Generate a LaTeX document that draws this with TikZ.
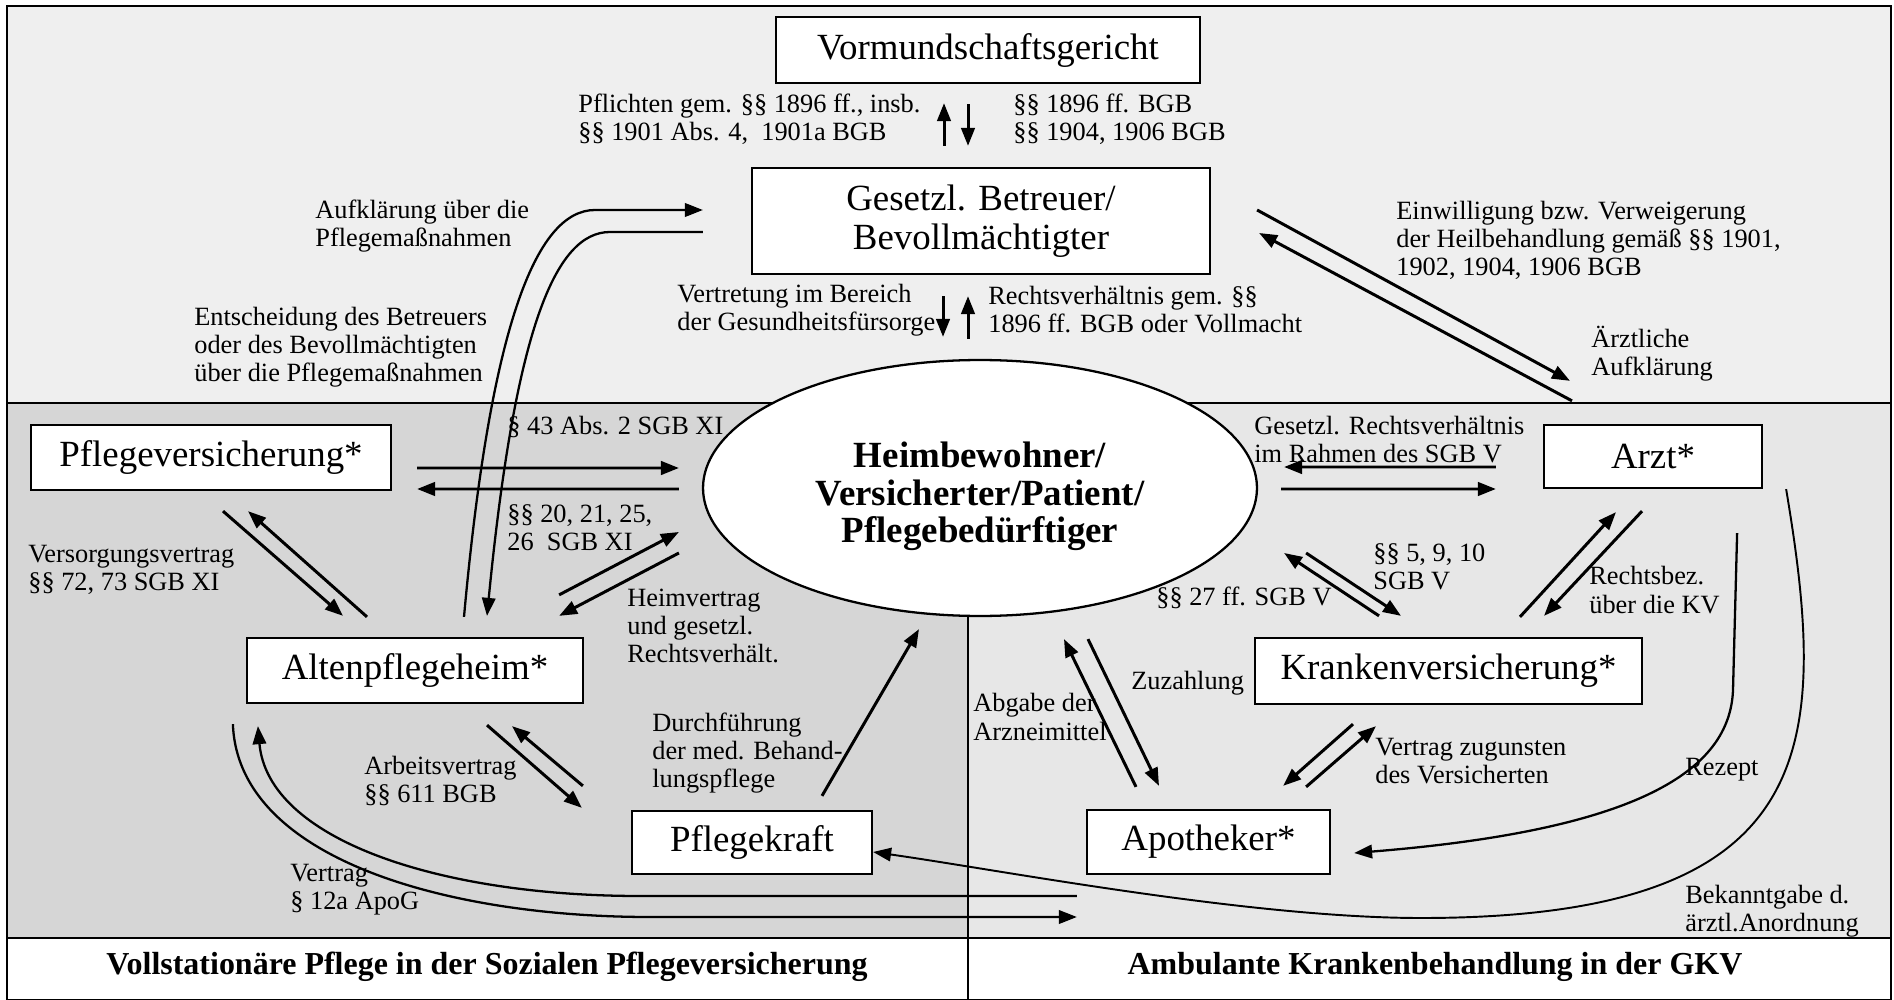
\documentclass[tikz,border=0pt]{standalone}
\usepackage{fontspec}
\setmainfont{Liberation Serif}
\usepackage{tikz}
\definecolor{topgray}{RGB}{239, 239, 239}
\definecolor{leftgray}{RGB}{214, 214, 214}
\definecolor{rightgray}{RGB}{231, 231, 231}
\usetikzlibrary{shapes.geometric, arrows.meta, positioning}

\begin{document}
\begin{tikzpicture}[x=0.02cm, y=-0.02cm,
    actor/.style={draw, line width=1.3pt, fill=white, inner sep=0pt,
                  font=\fontsize{21}{22}\selectfont, align=center},
    person/.style={draw, ellipse, line width=1.3pt, fill=white, inner sep=0pt,
                   minimum width=11.08cm, minimum height=5.12cm, text height=67pt,
                   font=\fontsize{21}{21.5}\selectfont\bfseries, align=center},
    note/.style={font=\fontsize{15}{16}\selectfont, align=left, anchor=west, inner sep=0pt},
    title/.style={font=\fontsize{18.2}{19}\selectfont\bfseries},
    conn/.style={-{Triangle[length=3.6mm,width=2.7mm]}, line width=1.7pt},
    link/.style={line width=1.2pt},
    curve/.style={line width=1.3pt},
    thin curve/.style={line width=1.1pt}
]
    \useasboundingbox (0,0) rectangle (1894,1000);

    % Areas
    \fill[topgray] (7,6) rectangle (1891,403);
    \fill[leftgray] (7,403) rectangle (968,938);
    \fill[rightgray] (968,403) rectangle (1891,938);
    \fill[white] (7,938) rectangle (1891,1000);
    \draw[link] (7,403) -- (1891,403);
    \draw[link] (7,938) -- (1891,938);
    \draw[link] (968,403) -- (968,1000);
    \draw[link] (7,6) rectangle (1891,1000);

    % Footer
    \node[title] (ftleft) at (487,967) {Vollstationäre Pflege in der Sozialen Pflegeversicherung};
    \node[title] (ftright) at (1435,967) {Ambulante Krankenbehandlung in der GKV};

    % Parties
    \node[actor, minimum width=8.48cm, minimum height=1.32cm] (vorm) at (988,50) {Vormundschaftsgericht};
    \node[actor, minimum width=9.16cm, minimum height=2.12cm] (betr) at (981,221) {Gesetzl. Betreuer/\\Bevollmächtigter};
    \node[person] (pat) at (980,488) {Heimbewohner/\\Versicherter/Patient/\\Pflegebedürftiger};
    \node[actor, minimum width=7.2cm, minimum height=1.3cm] (pflv) at (211,457.5) {Pflegeversicherung*};
    \node[actor, minimum width=6.72cm, minimum height=1.3cm] (heim) at (415,670.5) {Altenpflegeheim*};
    \node[actor, minimum width=4.8cm, minimum height=1.26cm] (kraft) at (752,842.5) {Pflegekraft};
    \node[actor, minimum width=4.36cm, minimum height=1.26cm] (arzt) at (1653,456.5) {Arzt*};
    \node[actor, minimum width=7.74cm, minimum height=1.32cm] (kv) at (1448.5,671) {Krankenversicherung*};
    \node[actor, minimum width=4.86cm, minimum height=1.28cm] (apo) at (1208.5,842) {Apotheker*};

    % Labels
    \node[note] (pflicht) at (578,119) {Pflichten gem. §§ 1896 ff., insb.\\§§ 1901 Abs. 4,\ \ 1901a BGB};
    \node[note] (bgbvorm) at (1013,119) {§§ 1896 ff. BGB\\§§ 1904, 1906 BGB};
    \node[note] (aufkl) at (315,226) {Aufklärung über die\\Pflegemaßnahmen};
    \node[note] (entsch) at (194,347) {Entscheidung des Betreuers\\oder des Bevollmächtigten\\über die Pflegemaßnahmen};
    \node[note] (vertr) at (677,310) {Vertretung im Bereich\\der Gesundheitsfürsorge};
    \node[note] (rechtsv) at (988,310) {Rechtsverhältnis gem. §§\\1896 ff. BGB oder Vollmacht};
    \node[note] (einw) at (1396,240) {Einwilligung bzw. Verweigerung\\der Heilbehandlung gemäß §§ 1901,\\1902, 1904, 1906 BGB};
    \node[note] (aerztl) at (1591,354) {Ärztliche\\Aufklärung};
    \node[note] (par43) at (507,427) {§ 43 Abs. 2 SGB XI};
    \node[note] (par20) at (507,528) {§§ 20, 21, 25,\\26\ \ SGB XI};
    \node[note] (versorg) at (28,570) {Versorgungsvertrag\\§§ 72, 73 SGB XI};
    \node[note] (heimv) at (627,626) {Heimvertrag\\und gesetzl.\\Rechtsverhält.};
    \node[note] (gesrv) at (1254,440) {Gesetzl. Rechtsverhältnis\\im Rahmen des SGB V};
    \node[note] (par5) at (1373,567) {§§ 5, 9, 10\\SGB V};
    \node[note] (par27) at (1156,598) {§§ 27 ff. SGB V};
    \node[note] (rbez) at (1589,590) {Rechtsbez.\\über die KV};
    \node[note] (zuz) at (1131,683) {Zuzahlung};
    \node[note] (abgabe) at (973,717) {Abgabe der\\Arzneimittel};
    \node[note] (vzug) at (1375,761) {Vertrag zugunsten\\des Versicherten};
    \node[note] (rezept) at (1685,770) {Rezept};
    \node[note] (bekannt) at (1685,911) {Bekanntgabe d.\\ärztl.Anordnung};
    \node[note] (arbeit) at (364,781) {Arbeitsvertrag\\§§ 611 BGB};
    \node[note] (durchf) at (652,753) {Durchführung\\der med. Behand-\\lungspflege};
    \node[note] (apog) at (290,890) {Vertrag\\§ 12a ApoG};

    % Vormundschaftsgericht - Betreuer
    \draw[conn] ([shift={(-37,-21)}]betr.north) -- ([shift={(-44,19)}]vorm.south);
    \draw[conn] ([shift={(-20,20)}]vorm.south) -- ([shift={(-13,-21)}]betr.north);

    % Betreuer - Heimbewohner
    \draw[conn] ([shift={(-38,21)}]betr.south) -- ([shift={(-37,-22)}]pat.north);
    \draw[conn] ([shift={(-12,-20)}]pat.north) -- ([shift={(-13,21)}]betr.south);

    % Betreuer - Altenpflegeheim
    \draw[conn, curve] ([shift={(49,-20)}]heim.north) .. controls (490,330) and (535,210) .. (595,210)
        -- ([shift={(-48,-11)}]betr.west);
    \draw[conn, curve] ([shift={(-48,11)}]betr.west) -- (610,232) .. controls (555,232) and (515,330)
        .. ([shift={(72,-21)}]heim.north);

    % Betreuer - Arzt
    \draw[conn] ([shift={(46,-11)}]betr.east) -- ([shift={(-83,-43)}]arzt.north);
    \draw[conn] ([shift={(-81,-23)}]arzt.north) -- ([shift={(48,12)}]betr.east);

    % Pflegeversicherung
    \draw[conn] ([shift={(25,10.5)}]pflv.east) -- ([shift={(-23,-20)}]pat.west);
    \draw[conn] ([shift={(-23,1)}]pat.west) -- ([shift={(25,31.5)}]pflv.east);
    \draw[conn] ([shift={(12,20)}]pflv.south) -- ([shift={(-72,-21)}]heim.north);
    \draw[conn] ([shift={(-48,-20)}]heim.north) -- ([shift={(37,20)}]pflv.south);

    % Altenpflegeheim
    \draw[conn] ([shift={(-25,-42)}]heim.north east) -- ([shift={(-23,44)}]pat.west);
    \draw[conn] ([shift={(-23,65)}]pat.west) -- ([shift={(-25,-21)}]heim.north east);
    \draw[conn] ([shift={(72,21)}]heim.south) -- ([shift={(-49,-2)}]kraft.north west);
    \draw[conn] ([shift={(-48,-24)}]kraft.north west) -- ([shift={(97,22)}]heim.south);
    \draw[conn] ([shift={(70,-14)}]kraft.north) -- ([shift={(-61,12)}]pat.south);

    % Arzt and Krankenversicherung
    \draw[conn] ([shift={(-47,10.5)}]arzt.west) -- ([shift={(26,-21)}]pat.east);
    \draw[conn] ([shift={(23,1)}]pat.east) -- ([shift={(-47,32.5)}]arzt.west);
    \draw[conn] ([shift={(-69.5,-21)}]kv.north) -- ([shift={(26,65)}]pat.east);
    \draw[conn] ([shift={(48,65)}]pat.east) -- ([shift={(-47.5,-21)}]kv.north);
    \draw[conn] ([shift={(71.5,-20)}]kv.north) -- ([shift={(-37,23)}]arzt.south);
    \draw[conn] ([shift={(-11,22)}]arzt.south) -- ([shift={(95.5,-21)}]kv.north);

    % Apotheker
    \draw[conn] ([shift={(-72.5,-22)}]apo.north) -- ([shift={(84,22)}]pat.south);
    \draw[conn] ([shift={(108,22)}]pat.south) -- ([shift={(-49.5,-23)}]apo.north);
    \draw[conn] ([shift={(-95.5,19)}]kv.south) -- ([shift={(-48,-23)}]apo.north east);
    \draw[conn] ([shift={(-25,-22)}]apo.north east) -- ([shift={(-72.5,21)}]kv.south);

    % Rezept and Anordnung
    \draw[conn, curve] ([shift={(-26,44)}]arzt.south east) -- (1733,690)
        .. controls (1730,770) and (1640,830) .. ([shift={(23,11)}]apo.east);
    \draw[conn, thin curve] ([shift={(23,0)}]arzt.south east) .. controls (1830,750) and (1820,918) .. (1421,918)
        .. controls (1250,918) and (1000,870) .. ([shift={(0,9.5)}]kraft.east);

    % Vertrag ApoG
    \draw[conn, curve] ([shift={(-13,20)}]heim.south west) .. controls (238,860) and (450,917) .. (650,917)
        -- ([shift={(-9,75)}]apo.west);
    \draw[conn, curve] ([shift={(-9,54)}]apo.west) -- (640,896) .. controls (440,896) and (268,840)
        .. ([shift={(12,22)}]heim.south west);
\end{tikzpicture}
\end{document}
